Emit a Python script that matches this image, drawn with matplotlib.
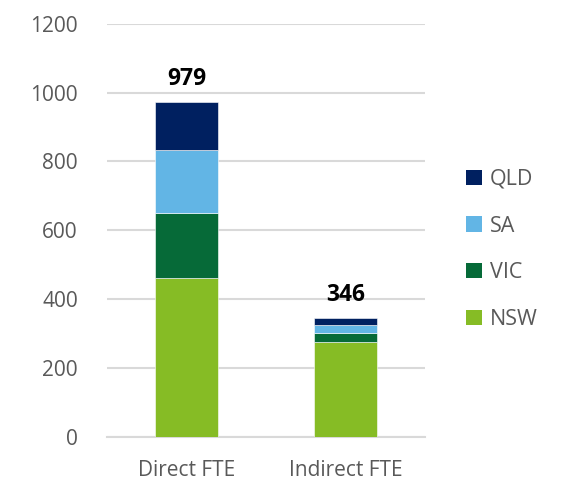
import numpy as np
import matplotlib.pyplot as plt
from matplotlib.patches import Patch

plt.rcParams['font.family'] = ['Open Sans', 'DejaVu Sans']

categories = ["Direct FTE", "Indirect FTE"]
states = ["NSW", "VIC", "SA", "QLD"]
nsw = [462, 274]
vic = [189, 27]
sa = [183, 25]
qld = [138, 20]
totals = [979, 346]

colors = {"NSW": "#86BC25", "VIC": "#066A38", "SA": "#62B5E5", "QLD": "#002060"}
series = {"NSW": nsw, "VIC": vic, "SA": sa, "QLD": qld}

fig = plt.figure(figsize=(5.64, 5.04), dpi=100)
ax = fig.add_axes([0.1897, 0.1335, 0.5638, 0.8191])

x = np.arange(len(categories))
bottom = np.zeros(len(categories))
for s in states:
    vals = np.array(series[s])
    ax.bar(x, vals, width=0.396, bottom=bottom, color=colors[s],
           edgecolor="white", linewidth=0.4, zorder=3)
    bottom += vals

stack_tops = bottom
for i, t in enumerate(totals):
    ax.annotate(str(t), (x[i], stack_tops[i]), xytext=(0, 8), textcoords="offset points",
                ha="center", va="bottom", fontsize=16.5, fontweight="bold", color="black")

ax.set_xlim(-0.5, 1.5)
ax.set_ylim(0, 1200)
ax.set_yticks(np.arange(0, 1201, 200))
ax.set_xticks(x)
ax.set_xticklabels(categories)
ax.yaxis.grid(True, color="#D9D9D9", linewidth=1.5, zorder=0)
ax.set_axisbelow(True)
for sp in ["top", "right", "left"]:
    ax.spines[sp].set_visible(False)
ax.spines["bottom"].set_color("#D9D9D9")
ax.spines["bottom"].set_linewidth(1.5)
ax.tick_params(axis="both", length=0, labelsize=15, labelcolor="#595959")
ax.tick_params(axis="y", pad=21)
ax.tick_params(axis="x", pad=17)

handles = [Patch(facecolor=colors[s], label=s) for s in reversed(states)]
fig.legend(handles=handles, loc="center left", bbox_to_anchor=(0.808, 0.505),
           frameon=False, fontsize=15.5, labelcolor="#595959", borderpad=0,
           handlelength=0.7, handleheight=0.7, handletextpad=0.38, labelspacing=1.2)

fig.savefig("out.png", dpi=100)
